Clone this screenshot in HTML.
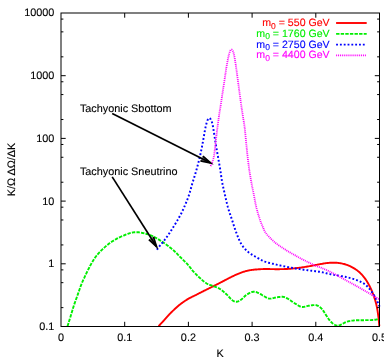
<!DOCTYPE html>
<html><head><meta charset="utf-8"><title>plot</title>
<style>
html,body{margin:0;padding:0;background:#fff;}
body{width:384px;height:359px;overflow:hidden;}
svg{display:block;font-family:"Liberation Sans",sans-serif;font-size:10.85px;text-rendering:geometricPrecision;fill:#000;}
</style></head><body>
<svg width="384" height="359" viewBox="0 0 384 359">
<rect width="384" height="359" fill="#fff"/>
<g fill="none" stroke-linejoin="round">
<path d="M158.50,326.30 L158.99,325.77 L159.47,325.25 L159.95,324.74 L160.43,324.22 L160.91,323.71 L161.40,323.18 L161.89,322.66 L162.38,322.12 L162.89,321.57 L163.40,321.00 L163.93,320.41 L164.46,319.81 L165.00,319.18 L165.55,318.55 L166.11,317.91 L166.66,317.27 L167.22,316.64 L167.78,316.01 L168.34,315.40 L168.90,314.80 L169.46,314.22 L170.01,313.65 L170.57,313.08 L171.13,312.52 L171.69,311.97 L172.26,311.42 L172.82,310.88 L173.38,310.35 L173.94,309.82 L174.50,309.30 L175.06,308.78 L175.62,308.27 L176.18,307.75 L176.74,307.25 L177.31,306.75 L177.87,306.26 L178.43,305.78 L178.99,305.31 L179.54,304.85 L180.10,304.40 L180.66,303.96 L181.22,303.54 L181.79,303.12 L182.36,302.71 L182.93,302.31 L183.48,301.92 L184.03,301.54 L184.57,301.18 L185.09,300.83 L185.60,300.50 L186.08,300.19 L186.52,299.90 L186.94,299.64 L187.35,299.39 L187.75,299.15 L188.16,298.91 L188.58,298.68 L189.02,298.43 L189.49,298.17 L190.00,297.90 L190.55,297.61 L191.13,297.31 L191.74,297.01 L192.37,296.70 L193.01,296.39 L193.66,296.07 L194.32,295.75 L194.97,295.43 L195.62,295.12 L196.25,294.80 L196.88,294.48 L197.50,294.16 L198.12,293.84 L198.75,293.52 L199.38,293.20 L200.00,292.88 L200.62,292.56 L201.25,292.24 L201.88,291.92 L202.50,291.60 L203.12,291.29 L203.75,290.97 L204.38,290.66 L205.00,290.35 L205.62,290.04 L206.25,289.74 L206.88,289.43 L207.50,289.12 L208.12,288.81 L208.75,288.50 L209.38,288.19 L210.00,287.88 L210.62,287.57 L211.25,287.26 L211.88,286.96 L212.50,286.65 L213.12,286.34 L213.75,286.03 L214.38,285.71 L215.00,285.40 L215.62,285.08 L216.25,284.77 L216.88,284.45 L217.50,284.13 L218.12,283.81 L218.75,283.49 L219.38,283.17 L220.00,282.85 L220.62,282.52 L221.25,282.20 L221.88,281.87 L222.50,281.54 L223.12,281.21 L223.75,280.88 L224.38,280.54 L225.00,280.21 L225.62,279.88 L226.25,279.55 L226.88,279.22 L227.50,278.90 L228.12,278.58 L228.75,278.26 L229.38,277.94 L230.00,277.63 L230.62,277.31 L231.25,277.00 L231.88,276.69 L232.50,276.39 L233.12,276.09 L233.75,275.80 L234.38,275.51 L235.00,275.22 L235.62,274.94 L236.25,274.66 L236.88,274.39 L237.50,274.12 L238.12,273.85 L238.75,273.60 L239.38,273.34 L240.00,273.10 L240.63,272.86 L241.26,272.63 L241.89,272.39 L242.52,272.17 L243.16,271.95 L243.79,271.74 L244.41,271.54 L245.03,271.35 L245.65,271.17 L246.25,271.00 L246.84,270.85 L247.43,270.71 L248.00,270.58 L248.57,270.46 L249.14,270.35 L249.71,270.25 L250.27,270.16 L250.84,270.07 L251.42,269.98 L252.00,269.90 L252.59,269.82 L253.18,269.75 L253.78,269.69 L254.38,269.63 L254.98,269.57 L255.59,269.53 L256.19,269.48 L256.80,269.44 L257.40,269.39 L258.00,269.35 L258.59,269.31 L259.17,269.27 L259.74,269.23 L260.31,269.20 L260.89,269.16 L261.47,269.13 L262.07,269.11 L262.68,269.08 L263.33,269.06 L264.00,269.05 L264.71,269.04 L265.47,269.04 L266.25,269.04 L267.05,269.04 L267.87,269.05 L268.69,269.06 L269.50,269.07 L270.29,269.08 L271.06,269.09 L271.80,269.10 L272.48,269.11 L273.11,269.12 L273.70,269.14 L274.27,269.16 L274.84,269.18 L275.42,269.19 L276.05,269.21 L276.72,269.21 L277.47,269.21 L278.30,269.20 L279.23,269.18 L280.24,269.16 L281.32,269.14 L282.45,269.11 L283.61,269.08 L284.80,269.04 L286.00,268.99 L287.19,268.94 L288.36,268.87 L289.50,268.80 L290.61,268.72 L291.72,268.62 L292.83,268.52 L293.94,268.41 L295.05,268.29 L296.16,268.16 L297.27,268.03 L298.38,267.89 L299.49,267.75 L300.60,267.60 L301.73,267.44 L302.87,267.28 L304.02,267.10 L305.17,266.92 L306.33,266.74 L307.47,266.55 L308.59,266.36 L309.69,266.17 L310.76,265.98 L311.80,265.80 L312.80,265.62 L313.76,265.43 L314.69,265.24 L315.60,265.05 L316.49,264.86 L317.38,264.68 L318.25,264.50 L319.13,264.32 L320.01,264.16 L320.90,264.00 L321.80,263.85 L322.69,263.70 L323.58,263.55 L324.47,263.41 L325.36,263.28 L326.25,263.15 L327.14,263.04 L328.02,262.94 L328.91,262.86 L329.80,262.80 L330.69,262.75 L331.58,262.72 L332.47,262.69 L333.36,262.68 L334.24,262.69 L335.13,262.71 L336.02,262.75 L336.91,262.81 L337.81,262.89 L338.70,263.00 L339.60,263.13 L340.50,263.27 L341.40,263.43 L342.30,263.61 L343.20,263.81 L344.10,264.04 L345.00,264.29 L345.90,264.56 L346.80,264.87 L347.70,265.20 L348.60,265.57 L349.52,265.97 L350.45,266.40 L351.37,266.86 L352.29,267.34 L353.20,267.85 L354.09,268.37 L354.96,268.90 L355.80,269.45 L356.60,270.00 L357.36,270.56 L358.10,271.13 L358.81,271.72 L359.50,272.32 L360.16,272.93 L360.81,273.56 L361.45,274.22 L362.07,274.89 L362.69,275.58 L363.30,276.30 L363.90,277.04 L364.49,277.80 L365.07,278.59 L365.63,279.39 L366.19,280.22 L366.73,281.06 L367.26,281.92 L367.78,282.80 L368.30,283.69 L368.80,284.60 L369.30,285.53 L369.78,286.47 L370.26,287.44 L370.73,288.42 L371.19,289.43 L371.63,290.44 L372.07,291.47 L372.49,292.50 L372.90,293.55 L373.30,294.60 L373.69,295.67 L374.06,296.75 L374.43,297.85 L374.78,298.96 L375.12,300.07 L375.45,301.20 L375.76,302.33 L376.06,303.46 L376.34,304.58 L376.60,305.70 L376.84,306.83 L377.07,307.97 L377.28,309.12 L377.47,310.27 L377.65,311.43 L377.82,312.57 L377.97,313.69 L378.12,314.79 L378.26,315.86 L378.40,316.90 L378.53,317.90 L378.64,318.85 L378.74,319.78 L378.82,320.69 L378.91,321.58 L378.98,322.46 L379.06,323.34 L379.13,324.21 L379.21,325.10 L379.30,326.00" stroke="#ff0000" stroke-width="1.9"/>
<path d="M67.50,326.30 L67.75,325.52 L67.98,324.76 L68.22,324.01 L68.45,323.27 L68.69,322.52 L68.93,321.76 L69.18,320.96 L69.44,320.13 L69.71,319.25 L70.00,318.30 L70.31,317.28 L70.64,316.18 L70.98,315.03 L71.33,313.84 L71.69,312.62 L72.05,311.40 L72.42,310.18 L72.78,308.98 L73.15,307.81 L73.50,306.70 L73.85,305.64 L74.19,304.63 L74.52,303.65 L74.86,302.69 L75.20,301.73 L75.54,300.77 L75.89,299.80 L76.25,298.81 L76.62,297.78 L77.00,296.70 L77.40,295.56 L77.82,294.34 L78.26,293.09 L78.71,291.80 L79.16,290.51 L79.61,289.22 L80.05,287.97 L80.48,286.77 L80.90,285.64 L81.30,284.60 L81.68,283.65 L82.04,282.77 L82.39,281.94 L82.73,281.16 L83.06,280.43 L83.39,279.71 L83.72,279.01 L84.04,278.32 L84.37,277.62 L84.70,276.90 L85.03,276.17 L85.37,275.46 L85.70,274.75 L86.03,274.04 L86.36,273.35 L86.69,272.66 L87.02,271.99 L87.35,271.32 L87.67,270.65 L88.00,270.00 L88.32,269.36 L88.64,268.73 L88.95,268.12 L89.25,267.51 L89.56,266.91 L89.87,266.32 L90.19,265.72 L90.52,265.12 L90.85,264.51 L91.20,263.90 L91.56,263.27 L91.93,262.63 L92.31,261.98 L92.70,261.33 L93.09,260.68 L93.49,260.04 L93.89,259.40 L94.30,258.78 L94.70,258.18 L95.10,257.60 L95.50,257.05 L95.89,256.52 L96.28,256.00 L96.68,255.51 L97.07,255.02 L97.48,254.54 L97.89,254.06 L98.31,253.58 L98.75,253.09 L99.20,252.60 L99.67,252.10 L100.14,251.60 L100.63,251.09 L101.13,250.59 L101.64,250.08 L102.16,249.58 L102.69,249.08 L103.22,248.58 L103.76,248.09 L104.30,247.60 L104.85,247.12 L105.40,246.63 L105.96,246.15 L106.53,245.67 L107.10,245.20 L107.68,244.73 L108.27,244.26 L108.87,243.80 L109.48,243.35 L110.10,242.90 L110.73,242.45 L111.38,242.01 L112.04,241.57 L112.72,241.13 L113.39,240.70 L114.08,240.28 L114.76,239.86 L115.45,239.46 L116.13,239.07 L116.80,238.70 L117.47,238.34 L118.13,238.00 L118.79,237.68 L119.46,237.36 L120.12,237.06 L120.78,236.76 L121.45,236.47 L122.13,236.18 L122.81,235.89 L123.50,235.60 L124.20,235.30 L124.92,235.00 L125.64,234.70 L126.37,234.40 L127.11,234.10 L127.84,233.82 L128.57,233.55 L129.29,233.31 L130.00,233.09 L130.70,232.90 L131.38,232.74 L132.06,232.60 L132.72,232.49 L133.38,232.39 L134.03,232.31 L134.68,232.25 L135.33,232.21 L135.98,232.19 L136.64,232.19 L137.30,232.20 L137.97,232.23 L138.63,232.29 L139.30,232.37 L139.97,232.47 L140.64,232.58 L141.32,232.71 L141.99,232.85 L142.66,232.99 L143.33,233.15 L144.00,233.30 L144.67,233.46 L145.34,233.62 L146.01,233.79 L146.68,233.97 L147.36,234.16 L148.03,234.36 L148.70,234.57 L149.37,234.80 L150.03,235.04 L150.70,235.30 L151.36,235.57 L152.00,235.86 L152.63,236.15 L153.26,236.46 L153.89,236.78 L154.54,237.12 L155.19,237.48 L155.87,237.86 L156.57,238.27 L157.30,238.70 L158.07,239.16 L158.87,239.65 L159.69,240.16 L160.54,240.70 L161.39,241.25 L162.26,241.82 L163.13,242.40 L164.00,243.00 L164.86,243.60 L165.70,244.20 L166.54,244.81 L167.39,245.45 L168.25,246.10 L169.10,246.76 L169.96,247.43 L170.80,248.10 L171.63,248.78 L172.44,249.46 L173.24,250.13 L174.00,250.80 L174.73,251.46 L175.44,252.13 L176.12,252.79 L176.78,253.45 L177.42,254.12 L178.07,254.79 L178.71,255.46 L179.36,256.13 L180.02,256.81 L180.70,257.50 L181.40,258.20 L182.12,258.90 L182.86,259.62 L183.60,260.34 L184.34,261.06 L185.07,261.78 L185.79,262.49 L186.49,263.21 L187.16,263.91 L187.80,264.60 L188.40,265.28 L188.95,265.95 L189.48,266.61 L189.98,267.27 L190.48,267.93 L190.97,268.58 L191.46,269.23 L191.98,269.88 L192.52,270.54 L193.10,271.20 L193.71,271.87 L194.35,272.55 L195.00,273.24 L195.67,273.93 L196.35,274.61 L197.04,275.29 L197.73,275.97 L198.42,276.63 L199.12,277.27 L199.80,277.90 L200.48,278.52 L201.17,279.14 L201.86,279.76 L202.56,280.36 L203.25,280.96 L203.94,281.53 L204.64,282.08 L205.33,282.59 L206.02,283.07 L206.70,283.50 L207.38,283.88 L208.05,284.21 L208.73,284.49 L209.40,284.74 L210.07,284.97 L210.74,285.18 L211.40,285.39 L212.07,285.61 L212.73,285.84 L213.40,286.10 L214.06,286.37 L214.72,286.62 L215.38,286.86 L216.04,287.11 L216.69,287.36 L217.35,287.63 L218.01,287.92 L218.67,288.24 L219.33,288.60 L220.00,289.00 L220.68,289.45 L221.37,289.95 L222.07,290.48 L222.77,291.05 L223.47,291.63 L224.16,292.23 L224.85,292.83 L225.52,293.44 L226.17,294.03 L226.80,294.60 L227.41,295.18 L228.00,295.79 L228.58,296.41 L229.14,297.04 L229.69,297.66 L230.23,298.26 L230.76,298.82 L231.28,299.34 L231.80,299.81 L232.30,300.20 L232.79,300.53 L233.26,300.82 L233.72,301.07 L234.17,301.27 L234.61,301.44 L235.05,301.56 L235.48,301.65 L235.92,301.70 L236.35,301.72 L236.80,301.70 L237.25,301.64 L237.68,301.54 L238.12,301.40 L238.55,301.22 L238.99,301.00 L239.43,300.75 L239.88,300.47 L240.34,300.17 L240.81,299.85 L241.30,299.50 L241.80,299.11 L242.32,298.66 L242.84,298.17 L243.37,297.64 L243.91,297.09 L244.47,296.55 L245.03,296.01 L245.61,295.50 L246.20,295.02 L246.80,294.60 L247.43,294.21 L248.08,293.82 L248.76,293.44 L249.45,293.08 L250.14,292.74 L250.84,292.44 L251.53,292.18 L252.21,291.96 L252.87,291.80 L253.50,291.70 L254.11,291.67 L254.70,291.71 L255.28,291.81 L255.85,291.95 L256.41,292.14 L256.96,292.35 L257.51,292.58 L258.04,292.82 L258.57,293.07 L259.10,293.30 L259.62,293.54 L260.12,293.80 L260.61,294.09 L261.09,294.39 L261.56,294.70 L262.04,295.01 L262.52,295.33 L263.00,295.63 L263.49,295.92 L264.00,296.20 L264.51,296.48 L265.03,296.77 L265.54,297.07 L266.06,297.36 L266.59,297.65 L267.12,297.92 L267.67,298.15 L268.23,298.35 L268.81,298.50 L269.40,298.60 L270.02,298.63 L270.66,298.60 L271.31,298.51 L271.99,298.39 L272.67,298.24 L273.36,298.08 L274.05,297.91 L274.74,297.75 L275.42,297.61 L276.10,297.50 L276.78,297.40 L277.46,297.29 L278.15,297.17 L278.84,297.05 L279.53,296.94 L280.21,296.85 L280.88,296.78 L281.54,296.75 L282.18,296.75 L282.80,296.80 L283.39,296.89 L283.96,297.02 L284.50,297.17 L285.03,297.36 L285.55,297.58 L286.07,297.82 L286.60,298.08 L287.14,298.37 L287.71,298.67 L288.30,299.00 L288.92,299.36 L289.56,299.77 L290.22,300.22 L290.89,300.69 L291.58,301.18 L292.26,301.67 L292.95,302.16 L293.64,302.63 L294.32,303.08 L295.00,303.50 L295.67,303.90 L296.34,304.32 L297.01,304.74 L297.68,305.16 L298.35,305.55 L299.02,305.92 L299.69,306.25 L300.36,306.53 L301.03,306.75 L301.70,306.90 L302.37,306.97 L303.06,306.96 L303.74,306.89 L304.43,306.76 L305.12,306.61 L305.80,306.43 L306.47,306.24 L307.13,306.07 L307.77,305.91 L308.40,305.80 L309.01,305.71 L309.62,305.61 L310.22,305.52 L310.82,305.43 L311.39,305.34 L311.96,305.27 L312.50,305.20 L313.03,305.15 L313.53,305.12 L314.00,305.10 L314.44,305.09 L314.84,305.09 L315.20,305.10 L315.55,305.11 L315.88,305.14 L316.20,305.20 L316.52,305.27 L316.86,305.38 L317.22,305.52 L317.60,305.70 L318.01,305.91 L318.43,306.15 L318.86,306.41 L319.30,306.70 L319.74,307.02 L320.19,307.37 L320.65,307.75 L321.10,308.16 L321.55,308.61 L322.00,309.10 L322.45,309.64 L322.90,310.24 L323.35,310.89 L323.80,311.58 L324.25,312.29 L324.70,313.01 L325.15,313.74 L325.60,314.45 L326.05,315.14 L326.50,315.80 L326.94,316.44 L327.37,317.08 L327.79,317.72 L328.21,318.36 L328.63,318.99 L329.06,319.60 L329.49,320.19 L329.94,320.76 L330.41,321.30 L330.90,321.80 L331.42,322.28 L331.96,322.76 L332.53,323.22 L333.11,323.66 L333.69,324.08 L334.28,324.45 L334.86,324.79 L335.43,325.08 L335.98,325.32 L336.50,325.50 L336.99,325.61 L337.45,325.66 L337.90,325.66 L338.33,325.60 L338.75,325.51 L339.17,325.39 L339.60,325.24 L340.05,325.07 L340.51,324.89 L341.00,324.70 L341.51,324.49 L342.01,324.23 L342.53,323.94 L343.06,323.62 L343.59,323.29 L344.15,322.95 L344.72,322.63 L345.32,322.32 L345.95,322.04 L346.60,321.80 L347.29,321.59 L348.00,321.40 L348.74,321.23 L349.51,321.07 L350.29,320.93 L351.10,320.80 L351.91,320.68 L352.73,320.58 L353.57,320.48 L354.40,320.40 L355.25,320.33 L356.11,320.28 L356.99,320.25 L357.88,320.23 L358.78,320.23 L359.69,320.22 L360.60,320.22 L361.50,320.22 L362.41,320.21 L363.30,320.20 L364.20,320.18 L365.11,320.17 L366.02,320.16 L366.94,320.15 L367.85,320.14 L368.76,320.13 L369.65,320.11 L370.52,320.08 L371.37,320.05 L372.20,320.00 L372.99,319.94 L373.76,319.86 L374.51,319.78 L375.24,319.69 L375.95,319.59 L376.66,319.49 L377.36,319.39 L378.07,319.29 L378.78,319.19 L379.50,319.10" stroke="#00ee00" stroke-width="1.9" stroke-dasharray="3.4 1.2"/>
<path d="M156.80,249.70 L157.09,249.31 L157.38,248.94 L157.66,248.56 L157.94,248.19 L158.23,247.82 L158.51,247.44 L158.81,247.05 L159.12,246.65 L159.45,246.23 L159.80,245.80 L160.17,245.35 L160.56,244.88 L160.97,244.41 L161.39,243.92 L161.83,243.42 L162.26,242.91 L162.70,242.39 L163.14,241.87 L163.57,241.34 L164.00,240.80 L164.42,240.25 L164.84,239.70 L165.26,239.13 L165.68,238.56 L166.11,237.98 L166.53,237.39 L166.95,236.80 L167.37,236.20 L167.78,235.60 L168.20,235.00 L168.62,234.39 L169.04,233.76 L169.46,233.12 L169.88,232.47 L170.30,231.82 L170.72,231.18 L171.12,230.54 L171.53,229.91 L171.92,229.30 L172.30,228.70 L172.67,228.13 L173.03,227.57 L173.37,227.03 L173.72,226.49 L174.05,225.97 L174.38,225.45 L174.71,224.92 L175.04,224.39 L175.37,223.85 L175.70,223.30 L176.03,222.74 L176.37,222.17 L176.70,221.60 L177.03,221.03 L177.36,220.45 L177.68,219.87 L178.01,219.28 L178.34,218.69 L178.67,218.10 L179.00,217.50 L179.32,216.93 L179.62,216.41 L179.91,215.91 L180.20,215.41 L180.49,214.89 L180.80,214.34 L181.13,213.72 L181.48,213.03 L181.87,212.23 L182.30,211.30 L182.79,210.24 L183.33,209.04 L183.91,207.75 L184.52,206.37 L185.14,204.94 L185.78,203.46 L186.40,201.97 L187.00,200.48 L187.57,199.02 L188.10,197.60 L188.58,196.21 L189.04,194.82 L189.48,193.42 L189.90,192.02 L190.30,190.61 L190.70,189.21 L191.09,187.80 L191.49,186.40 L191.89,185.00 L192.30,183.60 L192.72,182.21 L193.15,180.82 L193.58,179.43 L194.01,178.04 L194.44,176.65 L194.86,175.26 L195.28,173.87 L195.70,172.48 L196.10,171.09 L196.50,169.70 L196.89,168.30 L197.27,166.90 L197.65,165.50 L198.02,164.10 L198.39,162.70 L198.75,161.30 L199.10,159.90 L199.44,158.50 L199.78,157.10 L200.10,155.70 L200.41,154.31 L200.72,152.91 L201.01,151.52 L201.29,150.13 L201.57,148.74 L201.84,147.36 L202.11,145.97 L202.37,144.58 L202.64,143.19 L202.90,141.80 L203.16,140.38 L203.43,138.92 L203.68,137.43 L203.94,135.94 L204.19,134.46 L204.44,133.01 L204.69,131.61 L204.93,130.28 L205.17,129.03 L205.40,127.90 L205.63,126.86 L205.85,125.89 L206.07,124.99 L206.28,124.15 L206.49,123.37 L206.69,122.65 L206.90,121.98 L207.10,121.37 L207.30,120.81 L207.50,120.30 L207.70,119.84 L207.89,119.43 L208.08,119.08 L208.26,118.78 L208.44,118.53 L208.63,118.34 L208.81,118.20 L209.00,118.11 L209.20,118.08 L209.40,118.10 L209.61,118.18 L209.83,118.32 L210.06,118.53 L210.29,118.79 L210.52,119.09 L210.75,119.45 L210.97,119.84 L211.19,120.26 L211.40,120.72 L211.60,121.20 L211.78,121.69 L211.95,122.19 L212.11,122.72 L212.25,123.28 L212.40,123.88 L212.55,124.53 L212.69,125.25 L212.85,126.04 L213.02,126.92 L213.20,127.90 L213.39,129.00 L213.60,130.22 L213.81,131.54 L214.03,132.94 L214.25,134.40 L214.48,135.89 L214.71,137.40 L214.94,138.90 L215.17,140.38 L215.40,141.80 L215.63,143.19 L215.87,144.57 L216.10,145.96 L216.34,147.34 L216.58,148.72 L216.82,150.11 L217.07,151.50 L217.31,152.89 L217.56,154.29 L217.80,155.70 L218.05,157.12 L218.30,158.56 L218.56,160.02 L218.82,161.48 L219.08,162.94 L219.34,164.39 L219.59,165.83 L219.84,167.25 L220.07,168.64 L220.30,170.00 L220.51,171.32 L220.70,172.61 L220.89,173.88 L221.06,175.12 L221.23,176.36 L221.40,177.58 L221.58,178.80 L221.77,180.02 L221.98,181.25 L222.20,182.50 L222.44,183.76 L222.70,185.02 L222.97,186.28 L223.25,187.54 L223.53,188.80 L223.82,190.06 L224.12,191.32 L224.41,192.58 L224.71,193.84 L225.00,195.10 L225.29,196.35 L225.57,197.61 L225.85,198.86 L226.13,200.11 L226.42,201.36 L226.71,202.60 L227.01,203.85 L227.33,205.10 L227.65,206.35 L228.00,207.60 L228.37,208.85 L228.75,210.10 L229.15,211.35 L229.56,212.60 L229.97,213.84 L230.40,215.09 L230.83,216.34 L231.26,217.59 L231.68,218.85 L232.10,220.10 L232.51,221.36 L232.92,222.63 L233.33,223.91 L233.73,225.20 L234.14,226.47 L234.56,227.75 L234.98,229.01 L235.41,230.26 L235.85,231.49 L236.30,232.70 L236.76,233.90 L237.23,235.10 L237.70,236.31 L238.18,237.50 L238.67,238.67 L239.17,239.82 L239.68,240.93 L240.20,242.00 L240.74,243.03 L241.30,244.00 L241.87,244.92 L242.46,245.78 L243.06,246.61 L243.67,247.39 L244.29,248.14 L244.93,248.86 L245.58,249.55 L246.24,250.22 L246.92,250.87 L247.60,251.50 L248.29,252.10 L248.99,252.66 L249.69,253.18 L250.40,253.68 L251.13,254.15 L251.88,254.61 L252.64,255.07 L253.43,255.53 L254.25,256.01 L255.10,256.50 L255.99,257.02 L256.93,257.56 L257.90,258.11 L258.90,258.66 L259.91,259.21 L260.93,259.75 L261.95,260.27 L262.96,260.75 L263.95,261.20 L264.90,261.60 L265.83,261.95 L266.74,262.26 L267.63,262.53 L268.52,262.77 L269.40,262.99 L270.28,263.20 L271.15,263.39 L272.03,263.59 L272.91,263.79 L273.80,264.00 L274.70,264.22 L275.60,264.43 L276.50,264.64 L277.40,264.84 L278.30,265.04 L279.20,265.23 L280.10,265.43 L281.00,265.62 L281.90,265.81 L282.80,266.00 L283.69,266.19 L284.59,266.38 L285.48,266.56 L286.37,266.75 L287.26,266.93 L288.14,267.11 L289.03,267.29 L289.92,267.46 L290.81,267.63 L291.70,267.80 L292.59,267.96 L293.48,268.12 L294.37,268.28 L295.26,268.44 L296.15,268.59 L297.04,268.74 L297.93,268.88 L298.82,269.02 L299.71,269.16 L300.60,269.30 L301.48,269.43 L302.34,269.55 L303.19,269.67 L304.04,269.79 L304.89,269.90 L305.76,270.01 L306.65,270.13 L307.56,270.25 L308.51,270.37 L309.50,270.50 L310.55,270.64 L311.66,270.77 L312.81,270.91 L314.00,271.05 L315.20,271.19 L316.40,271.34 L317.58,271.50 L318.74,271.66 L319.85,271.82 L320.90,272.00 L321.89,272.19 L322.84,272.39 L323.75,272.60 L324.64,272.83 L325.51,273.05 L326.36,273.27 L327.21,273.50 L328.06,273.71 L328.92,273.91 L329.80,274.10 L330.69,274.27 L331.58,274.43 L332.47,274.58 L333.36,274.73 L334.24,274.87 L335.13,275.01 L336.02,275.15 L336.91,275.29 L337.81,275.44 L338.70,275.60 L339.60,275.76 L340.50,275.93 L341.40,276.09 L342.30,276.26 L343.20,276.43 L344.10,276.60 L345.00,276.78 L345.90,276.98 L346.80,277.18 L347.70,277.40 L348.60,277.63 L349.50,277.86 L350.41,278.11 L351.32,278.36 L352.23,278.62 L353.12,278.90 L354.01,279.18 L354.89,279.48 L355.75,279.78 L356.60,280.10 L357.43,280.43 L358.27,280.76 L359.09,281.10 L359.90,281.45 L360.71,281.82 L361.49,282.20 L362.26,282.59 L363.00,283.01 L363.71,283.44 L364.40,283.90 L365.05,284.38 L365.68,284.89 L366.28,285.42 L366.86,285.97 L367.41,286.53 L367.95,287.11 L368.48,287.70 L368.99,288.29 L369.50,288.90 L370.00,289.50 L370.49,290.11 L370.97,290.74 L371.44,291.38 L371.89,292.04 L372.34,292.69 L372.77,293.36 L373.19,294.02 L373.60,294.69 L374.01,295.35 L374.40,296.00 L374.79,296.66 L375.17,297.34 L375.55,298.03 L375.91,298.72 L376.27,299.41 L376.61,300.08 L376.94,300.73 L377.24,301.36 L377.53,301.95 L377.80,302.50 L378.04,303.00 L378.25,303.46 L378.43,303.88 L378.60,304.28 L378.76,304.66 L378.90,305.02 L379.04,305.38 L379.19,305.74 L379.34,306.11 L379.50,306.50" stroke="#0000ff" stroke-width="1.95" stroke-dasharray="1.85 2.05"/>
<path d="M210.60,166.20 L210.72,165.95 L210.82,165.74 L210.93,165.55 L211.03,165.36 L211.14,165.17 L211.25,164.95 L211.37,164.68 L211.50,164.37 L211.64,163.98 L211.80,163.50 L211.98,162.95 L212.18,162.36 L212.40,161.73 L212.63,161.04 L212.87,160.30 L213.11,159.50 L213.35,158.65 L213.58,157.73 L213.80,156.75 L214.00,155.70 L214.19,154.56 L214.37,153.31 L214.55,151.98 L214.72,150.58 L214.88,149.13 L215.04,147.65 L215.21,146.16 L215.37,144.68 L215.53,143.22 L215.70,141.80 L215.87,140.41 L216.04,139.02 L216.20,137.63 L216.37,136.24 L216.54,134.86 L216.71,133.47 L216.88,132.08 L217.05,130.69 L217.22,129.29 L217.40,127.90 L217.58,126.49 L217.77,125.04 L217.96,123.58 L218.16,122.11 L218.36,120.65 L218.55,119.21 L218.75,117.80 L218.94,116.44 L219.12,115.13 L219.30,113.90 L219.47,112.74 L219.64,111.65 L219.81,110.61 L219.97,109.62 L220.13,108.66 L220.29,107.73 L220.44,106.80 L220.60,105.88 L220.75,104.95 L220.90,104.00 L221.04,103.06 L221.18,102.17 L221.31,101.30 L221.44,100.44 L221.56,99.58 L221.69,98.70 L221.83,97.77 L221.97,96.79 L222.13,95.74 L222.30,94.60 L222.49,93.36 L222.69,92.04 L222.90,90.65 L223.12,89.20 L223.35,87.72 L223.58,86.21 L223.81,84.68 L224.05,83.17 L224.28,81.67 L224.50,80.20 L224.72,78.74 L224.94,77.25 L225.16,75.75 L225.38,74.25 L225.59,72.75 L225.81,71.27 L226.03,69.81 L226.25,68.39 L226.48,67.02 L226.70,65.70 L226.93,64.42 L227.16,63.15 L227.39,61.90 L227.62,60.68 L227.85,59.50 L228.08,58.37 L228.31,57.29 L228.54,56.28 L228.77,55.35 L229.00,54.50 L229.22,53.72 L229.45,53.00 L229.67,52.33 L229.89,51.72 L230.11,51.18 L230.32,50.71 L230.54,50.31 L230.76,49.99 L230.98,49.75 L231.20,49.60 L231.42,49.53 L231.65,49.55 L231.87,49.66 L232.10,49.84 L232.32,50.09 L232.55,50.41 L232.77,50.79 L232.99,51.24 L233.20,51.74 L233.40,52.30 L233.60,52.93 L233.79,53.65 L233.98,54.44 L234.16,55.30 L234.34,56.22 L234.51,57.18 L234.69,58.17 L234.86,59.17 L235.03,60.19 L235.20,61.20 L235.37,62.23 L235.53,63.29 L235.70,64.39 L235.86,65.52 L236.02,66.66 L236.18,67.82 L236.33,68.97 L236.49,70.13 L236.64,71.27 L236.80,72.40 L236.95,73.50 L237.10,74.59 L237.25,75.66 L237.39,76.74 L237.54,77.81 L237.68,78.90 L237.83,80.00 L237.98,81.13 L238.14,82.30 L238.30,83.50 L238.47,84.75 L238.64,86.05 L238.82,87.39 L239.00,88.75 L239.19,90.13 L239.37,91.52 L239.56,92.90 L239.74,94.26 L239.92,95.60 L240.10,96.90 L240.28,98.18 L240.45,99.47 L240.63,100.75 L240.80,102.02 L240.97,103.28 L241.15,104.52 L241.32,105.72 L241.48,106.89 L241.64,108.02 L241.80,109.10 L241.95,110.12 L242.10,111.08 L242.24,111.98 L242.38,112.85 L242.51,113.69 L242.65,114.53 L242.78,115.36 L242.92,116.21 L243.06,117.08 L243.20,118.00 L243.35,118.93 L243.50,119.85 L243.65,120.77 L243.80,121.70 L243.95,122.64 L244.10,123.60 L244.25,124.60 L244.40,125.65 L244.55,126.74 L244.70,127.90 L244.84,129.13 L244.99,130.42 L245.13,131.78 L245.27,133.17 L245.41,134.60 L245.54,136.05 L245.68,137.50 L245.82,138.96 L245.96,140.39 L246.10,141.80 L246.24,143.19 L246.37,144.57 L246.51,145.96 L246.64,147.34 L246.78,148.72 L246.91,150.11 L247.05,151.50 L247.19,152.89 L247.34,154.29 L247.50,155.70 L247.66,157.12 L247.83,158.56 L248.00,160.02 L248.18,161.48 L248.36,162.94 L248.54,164.39 L248.73,165.83 L248.91,167.25 L249.11,168.64 L249.30,170.00 L249.50,171.32 L249.69,172.61 L249.90,173.88 L250.10,175.12 L250.31,176.36 L250.52,177.58 L250.73,178.80 L250.95,180.02 L251.17,181.25 L251.40,182.50 L251.63,183.76 L251.87,185.02 L252.12,186.28 L252.37,187.54 L252.63,188.80 L252.88,190.06 L253.14,191.32 L253.39,192.58 L253.65,193.84 L253.90,195.10 L254.14,196.35 L254.38,197.61 L254.61,198.86 L254.84,200.11 L255.08,201.36 L255.31,202.60 L255.56,203.85 L255.82,205.10 L256.10,206.35 L256.40,207.60 L256.72,208.86 L257.06,210.14 L257.41,211.42 L257.77,212.71 L258.14,213.99 L258.53,215.27 L258.92,216.52 L259.31,217.75 L259.70,218.94 L260.10,220.10 L260.51,221.24 L260.93,222.38 L261.37,223.51 L261.81,224.63 L262.26,225.71 L262.70,226.76 L263.13,227.75 L263.54,228.67 L263.93,229.53 L264.30,230.30 L264.63,230.97 L264.92,231.53 L265.18,232.00 L265.43,232.41 L265.67,232.78 L265.91,233.11 L266.16,233.44 L266.44,233.79 L266.75,234.17 L267.10,234.60 L267.49,235.08 L267.92,235.57 L268.37,236.08 L268.84,236.59 L269.33,237.11 L269.83,237.63 L270.33,238.14 L270.83,238.65 L271.32,239.13 L271.80,239.60 L272.26,240.05 L272.72,240.47 L273.16,240.89 L273.61,241.30 L274.05,241.69 L274.51,242.09 L274.98,242.48 L275.46,242.88 L275.97,243.29 L276.50,243.70 L277.06,244.12 L277.65,244.55 L278.26,244.99 L278.89,245.42 L279.53,245.86 L280.18,246.30 L280.83,246.73 L281.48,247.16 L282.12,247.59 L282.75,248.00 L283.38,248.41 L284.00,248.81 L284.62,249.21 L285.25,249.61 L285.88,250.00 L286.50,250.39 L287.12,250.77 L287.75,251.15 L288.38,251.53 L289.00,251.90 L289.62,252.27 L290.25,252.63 L290.88,252.98 L291.50,253.33 L292.12,253.68 L292.75,254.02 L293.38,254.36 L294.00,254.71 L294.62,255.05 L295.25,255.40 L295.88,255.75 L296.50,256.11 L297.12,256.46 L297.75,256.82 L298.38,257.17 L299.00,257.53 L299.62,257.88 L300.25,258.23 L300.88,258.57 L301.50,258.90 L302.12,259.23 L302.75,259.55 L303.38,259.86 L304.00,260.17 L304.62,260.48 L305.25,260.79 L305.88,261.09 L306.50,261.39 L307.12,261.70 L307.75,262.00 L308.37,262.31 L308.99,262.61 L309.60,262.92 L310.22,263.22 L310.83,263.52 L311.45,263.83 L312.08,264.13 L312.71,264.42 L313.35,264.71 L314.00,265.00 L314.65,265.28 L315.31,265.54 L315.96,265.79 L316.62,266.04 L317.28,266.29 L317.96,266.55 L318.66,266.81 L319.38,267.09 L320.13,267.38 L320.90,267.70 L321.71,268.04 L322.55,268.39 L323.42,268.76 L324.32,269.14 L325.22,269.52 L326.14,269.92 L327.07,270.33 L327.99,270.75 L328.90,271.17 L329.80,271.60 L330.69,272.04 L331.58,272.49 L332.47,272.94 L333.36,273.41 L334.24,273.89 L335.13,274.37 L336.02,274.85 L336.91,275.33 L337.81,275.82 L338.70,276.30 L339.60,276.78 L340.50,277.27 L341.40,277.76 L342.30,278.25 L343.20,278.74 L344.10,279.23 L345.00,279.72 L345.90,280.22 L346.80,280.71 L347.70,281.20 L348.59,281.69 L349.49,282.18 L350.38,282.66 L351.27,283.15 L352.16,283.64 L353.04,284.13 L353.93,284.62 L354.82,285.11 L355.71,285.60 L356.60,286.10 L357.49,286.60 L358.40,287.12 L359.30,287.63 L360.21,288.15 L361.12,288.68 L362.02,289.19 L362.91,289.71 L363.79,290.22 L364.65,290.71 L365.50,291.20 L366.33,291.68 L367.16,292.15 L367.97,292.62 L368.78,293.08 L369.57,293.53 L370.35,293.98 L371.11,294.42 L371.86,294.85 L372.59,295.28 L373.30,295.70 L373.98,296.11 L374.64,296.50 L375.28,296.89 L375.90,297.27 L376.50,297.64 L377.10,298.01 L377.69,298.38 L378.29,298.75 L378.89,299.12 L379.50,299.50" stroke="#ff00ff" stroke-width="1.8" stroke-dasharray="1.0 0.92"/>
</g>
<g stroke="#000" stroke-width="1.7" stroke-linecap="butt">
<line x1="112.20" y1="113.40" x2="210.74" y2="163.02"/><polyline points="200.46,160.88 210.74,163.02 202.90,156.03" fill="#000" fill-opacity="0.55" stroke-linejoin="miter"/>
<line x1="112.20" y1="176.90" x2="156.60" y2="246.70"/><polyline points="148.87,239.60 156.60,246.70 153.45,236.69" fill="#000" fill-opacity="0.55" stroke-linejoin="miter"/>
</g>
<g stroke="#000" stroke-width="1" fill="none">
<rect x="61.0" y="13.0" width="318.5" height="313.5"/>
<line x1="61.00" y1="19.08" x2="63.40" y2="19.08"/><line x1="379.50" y1="19.08" x2="377.10" y2="19.08"/><line x1="61.00" y1="31.87" x2="63.40" y2="31.87"/><line x1="379.50" y1="31.87" x2="377.10" y2="31.87"/><line x1="61.00" y1="56.83" x2="63.40" y2="56.83"/><line x1="379.50" y1="56.83" x2="377.10" y2="56.83"/><line x1="61.00" y1="75.70" x2="65.70" y2="75.70"/><line x1="379.50" y1="75.70" x2="374.80" y2="75.70"/><line x1="61.00" y1="81.78" x2="63.40" y2="81.78"/><line x1="379.50" y1="81.78" x2="377.10" y2="81.78"/><line x1="61.00" y1="94.57" x2="63.40" y2="94.57"/><line x1="379.50" y1="94.57" x2="377.10" y2="94.57"/><line x1="61.00" y1="119.53" x2="63.40" y2="119.53"/><line x1="379.50" y1="119.53" x2="377.10" y2="119.53"/><line x1="61.00" y1="138.40" x2="65.70" y2="138.40"/><line x1="379.50" y1="138.40" x2="374.80" y2="138.40"/><line x1="61.00" y1="144.48" x2="63.40" y2="144.48"/><line x1="379.50" y1="144.48" x2="377.10" y2="144.48"/><line x1="61.00" y1="157.27" x2="63.40" y2="157.27"/><line x1="379.50" y1="157.27" x2="377.10" y2="157.27"/><line x1="61.00" y1="182.23" x2="63.40" y2="182.23"/><line x1="379.50" y1="182.23" x2="377.10" y2="182.23"/><line x1="61.00" y1="201.10" x2="65.70" y2="201.10"/><line x1="379.50" y1="201.10" x2="374.80" y2="201.10"/><line x1="61.00" y1="207.18" x2="63.40" y2="207.18"/><line x1="379.50" y1="207.18" x2="377.10" y2="207.18"/><line x1="61.00" y1="219.97" x2="63.40" y2="219.97"/><line x1="379.50" y1="219.97" x2="377.10" y2="219.97"/><line x1="61.00" y1="244.93" x2="63.40" y2="244.93"/><line x1="379.50" y1="244.93" x2="377.10" y2="244.93"/><line x1="61.00" y1="263.80" x2="65.70" y2="263.80"/><line x1="379.50" y1="263.80" x2="374.80" y2="263.80"/><line x1="61.00" y1="269.88" x2="63.40" y2="269.88"/><line x1="379.50" y1="269.88" x2="377.10" y2="269.88"/><line x1="61.00" y1="282.67" x2="63.40" y2="282.67"/><line x1="379.50" y1="282.67" x2="377.10" y2="282.67"/><line x1="61.00" y1="307.63" x2="63.40" y2="307.63"/><line x1="379.50" y1="307.63" x2="377.10" y2="307.63"/><line x1="124.70" y1="326.50" x2="124.70" y2="321.80"/><line x1="124.70" y1="13.00" x2="124.70" y2="17.70"/><line x1="188.40" y1="326.50" x2="188.40" y2="321.80"/><line x1="188.40" y1="13.00" x2="188.40" y2="17.70"/><line x1="252.10" y1="326.50" x2="252.10" y2="321.80"/><line x1="252.10" y1="13.00" x2="252.10" y2="17.70"/><line x1="315.80" y1="326.50" x2="315.80" y2="321.80"/><line x1="315.80" y1="13.00" x2="315.80" y2="17.70"/>
</g>
<defs><filter id="ga" filterUnits="userSpaceOnUse" x="0" y="0" width="384" height="359"><feOffset dx="0" dy="0"/></filter></defs>
<g filter="url(#ga)" stroke="#000" stroke-width="0.12">
<text x="54.3" y="16.40" text-anchor="end">10000</text><text x="54.3" y="79.10" text-anchor="end">1000</text><text x="54.3" y="141.80" text-anchor="end">100</text><text x="54.3" y="204.50" text-anchor="end">10</text><text x="54.3" y="267.20" text-anchor="end">1</text><text x="54.3" y="329.90" text-anchor="end">0.1</text>
<text x="61.00" y="341.4" text-anchor="middle">0</text><text x="124.70" y="341.4" text-anchor="middle">0.1</text><text x="188.40" y="341.4" text-anchor="middle">0.2</text><text x="252.10" y="341.4" text-anchor="middle">0.3</text><text x="315.80" y="341.4" text-anchor="middle">0.4</text><text x="379.50" y="341.4" text-anchor="middle">0.5</text>
<text x="79.9" y="112.2">Tachyonic Sbottom</text>
<text x="79.9" y="174.8">Tachyonic Sneutrino</text>
<text x="220.2" y="356.6" text-anchor="middle">K</text>
<text transform="translate(14.6,169.5) rotate(-90)" text-anchor="middle">K/&#937; &#916;&#937;/&#916;K</text>
<text x="329.7" y="25.90" text-anchor="end" fill="#ff0000" stroke="#ff0000" stroke-width="0.12" font-size="10.6">m<tspan font-size="8.5" dy="2.7">0</tspan><tspan dy="-2.7"> = 550 GeV</tspan></text><line x1="336.1" y1="23.00" x2="366.7" y2="23.00" stroke="#ff0000" stroke-width="1.9"/><text x="329.7" y="36.75" text-anchor="end" fill="#00ee00" stroke="#00ee00" stroke-width="0.12" font-size="10.6">m<tspan font-size="8.5" dy="2.7">0</tspan><tspan dy="-2.7"> = 1760 GeV</tspan></text><line x1="336.1" y1="33.85" x2="366.7" y2="33.85" stroke="#00ee00" stroke-width="1.9" stroke-dasharray="3.4 1.2"/><text x="329.7" y="47.50" text-anchor="end" fill="#0000ff" stroke="#0000ff" stroke-width="0.12" font-size="10.6">m<tspan font-size="8.5" dy="2.7">0</tspan><tspan dy="-2.7"> = 2750 GeV</tspan></text><line x1="336.1" y1="44.60" x2="365.4" y2="44.60" stroke="#0000ff" stroke-width="1.95" stroke-dasharray="1.85 1.97"/><text x="329.7" y="58.20" text-anchor="end" fill="#ff00ff" stroke="#ff00ff" stroke-width="0.12" font-size="10.6">m<tspan font-size="8.5" dy="2.7">0</tspan><tspan dy="-2.7"> = 4400 GeV</tspan></text><line x1="336.1" y1="55.30" x2="366.7" y2="55.30" stroke="#ff00ff" stroke-width="1.8" stroke-dasharray="1.0 0.92"/>
</g>
</svg>
</body></html>
